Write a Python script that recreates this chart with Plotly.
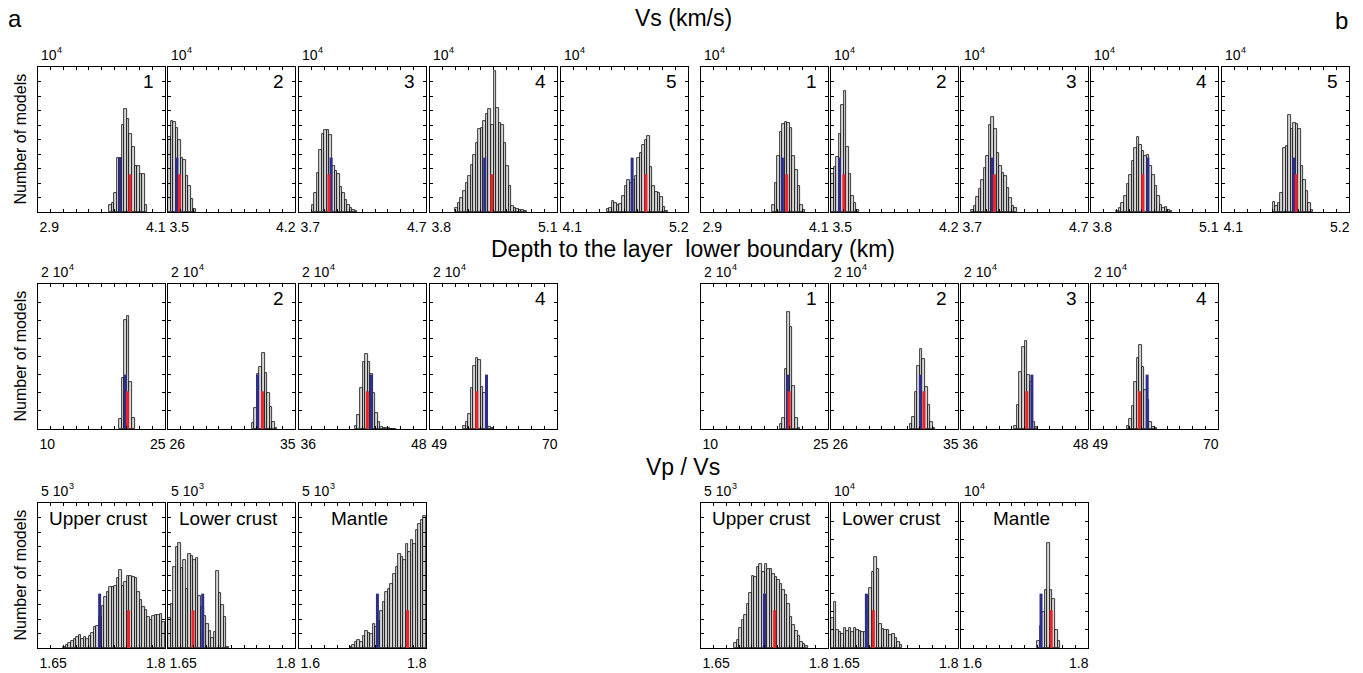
import plotly.graph_objects as go

W, H = 1363, 673
NBINS = 50
FONT = "Liberation Sans, Arial, sans-serif"

# ---------------- data ----------------
VS_RANGES = [(2.9, 4.1), (3.5, 4.2), (3.7, 4.7), (3.8, 5.1), (4.1, 5.2)]
VS_TICKS = [("2.9", "4.1"), ("3.5", "4.2"), ("3.7", "4.7"), ("3.8", "5.1"), ("4.1", "5.2")]
DEPTH_RANGES = [(10, 25), (26, 35), (36, 48), (49, 70)]
DEPTH_TICKS = [("10", "25"), ("26", "35"), ("36", "48"), ("49", "70")]
VPVS_RANGES = [(1.65, 1.8), (1.65, 1.8), (1.6, 1.8)]
VPVS_TICKS = [("1.65", "1.8"), ("1.65", "1.8"), ("1.6", "1.8")]
VPVS_NAMES = ["Upper crust", "Lower crust", "Mantle"]

# Vs histograms (counts per bin, first bin index)
VS_A_START = [28, 0, 5, 10, 18]
VS_A_COUNTS = [
    [500, 620, 1300, 3700, 3700, 6000, 7100, 6400, 5400, 4500, 3200, 3200, 2600, 2600, 500],
    [5200, 6300, 6200, 5800, 5000, 3700, 3600, 2500, 1800, 900, 200],
    [500, 1300, 2700, 4300, 5400, 5650, 5650, 5300, 3200, 2800, 2600, 1700, 1300, 850, 500, 280, 120, 50],
    [280, 620, 970, 1430, 2000, 2470, 3270, 3960, 4770, 5690, 5800, 6270, 6730, 7070, 6000, 9720,
     7190, 6150, 5970, 4770, 3160, 1770, 390, 280, 210, 160, 120, 50],
    [210, 280, 780, 620, 460, 580, 1130, 1770, 2240, 2000, 2190, 2470, 3730, 4100, 4650, 5000,
     5230, 3090, 1770, 1360, 1300, 1040, 350, 50],
]
VS_B_START = [28, 0, 4, 10, 20]
VS_B_COUNTS = [
    [460, 2000, 3850, 5500, 6080, 6200, 6150, 5800, 3850, 2880, 1770, 460, 160],
    [2600, 3100, 3800, 5400, 7350, 8350, 4500, 2600, 1100, 600, 150],
    [110, 390, 1010, 1590, 2190, 3040, 3850, 5970, 6550, 5690, 4080, 3160, 2700, 2470, 1660, 970, 390, 280],
    [90, 280, 620, 1080, 1940, 2580, 3500, 4420, 5180, 4650, 4190, 3850, 3960, 3160, 2580, 1770,
     1080, 500, 280, 320, 160, 50],
    [690, 390, 620, 1310, 4420, 4540, 6660, 5690, 6150, 6080, 5690, 3200, 2240, 1430, 620, 160],
]
VS_A_BLUE = [3.673, 3.549, 3.953, 4.36, 4.716]
VS_A_RED = [3.77, 3.563, 3.936, 4.433, 4.835]
VS_B_BLUE = [3.669, 3.547, 3.947, 4.382, 4.722]
VS_B_RED = [3.71, 3.571, 3.963, 4.33, 4.743]

# Depth histograms
DEPTH_A_START = [32, 33, 22, 13]
DEPTH_A_COUNTS = [
    [1380, 7000, 15070, 15620, 6540, 1470],
    [780, 2860, 7560, 8620, 10550, 7700, 5020, 3090, 1010, 180],
    [460, 1940, 5620, 9310, 10300, 9200, 7600, 4900, 2200, 900, 250, 100, 80, 80, 60, 50],
    [460, 920, 2030, 5710, 8710, 9860, 9500, 5850, 5000, 1010, 320, 90],
]
DEPTH_B_START = [31, 31, 21, 14]
DEPTH_B_COUNTS = [
    [650, 1570, 8290, 16080, 14010, 5990, 1570, 180],
    [650, 1710, 5160, 8710, 11010, 9630, 5850, 3320, 1010, 180],
    [460, 3320, 7930, 11290, 12070, 7500, 6500, 920, 230],
    [460, 1380, 3230, 6540, 9770, 11610, 8620, 5390, 4000, 920, 320, 90],
]
DEPTH_A_BLUE = [20.32, 32.35, 42.84, 58.34]
DEPTH_A_RED = [20.56, 32.69, 42.46, 56.74]
DEPTH_B_BLUE = [20.24, 32.34, 42.7, 58.28]
DEPTH_B_RED = [20.4, 32.58, 42.22, 57.0]

# Vp/Vs histograms
VPVS_A_START = [10, 0, 20]
VPVS_A_COUNTS = [
    [50, 115, 160, 230, 310, 390, 450, 310, 370, 310, 400, 520, 710, 770, 1060, 1460, 1750, 1920,
     2100, 2100, 2150, 2400, 2700, 2150, 2290, 2470, 2470, 2440, 2420, 1920, 1640, 1410, 1310,
     1060, 970, 1120, 1140, 1140, 1160, 890],
    [1020, 1520, 2790, 3480, 3620, 2750, 3020, 2040, 3250, 3160, 3040, 3110, 1810, 1410, 1120,
     830, 600, 330, 540, 2670, 1890, 1500, 1080, 20],
    [50, 115, 200, 290, 220, 400, 600, 510, 480, 830, 710, 940, 1290, 1580, 1920, 2040, 2210,
     2560, 2790, 3250, 3130, 3020, 3590, 3310, 3710, 3600, 4060, 4290, 4400, 4550],
]
VPVS_B_START = [13, 0, 30]
VPVS_B_COUNTS = [
    [170, 280, 680, 970, 1140, 1530, 1880, 2500, 2440, 2780, 2900, 2610, 2900, 2730, 2730, 2560,
     2440, 2330, 2210, 1990, 1820, 1530, 1080, 800, 570, 400, 200, 140, 60],
    [2050, 3180, 1250, 1070, 950, 1410, 1140, 1410, 1070, 1410, 1250, 1140, 1070, 1070, 3600,
     4140, 5230, 6250, 5450, 1640, 1300, 1250, 1250, 910, 950, 680, 410, 230],
    [450, 1500, 2500, 3980, 7270, 3980, 3410, 1250, 450],
]
VPVS_A_BLUE = [1.7228, 1.691, 1.7235]
VPVS_A_RED = [1.757, 1.6796, 1.771]
VPVS_B_BLUE = [1.725, 1.6918, 1.726]
VPVS_B_RED = [1.737, 1.70, 1.742]

# axis maxima (the "10^4" style multipliers) as (prefix, exponent)
VS_YMAX = [10000] * 5
DEPTH_YMAX = [20000] * 4
VPVS_A_YMAX = [5000, 5000, 5000]
VPVS_B_YMAX = [5000, 10000, 10000]
MULT_TEXT = {10000: ("10", "4"), 20000: ("2 10", "4"), 5000: ("5 10", "3")}
BLUE_FRAC = 0.375
RED_FRAC = 0.26

# ---------------- layout geometry (pixels) ----------------
COL_A = [38, 168, 299, 430, 561]
COL_B = [701, 831, 961, 1091, 1222]
BOXW = 127
ROWS = [(67, 212), (284, 429), (503, 648)]
TICKFONT = 14
MULTFONT = 14

BLUE = "#2A2F8E"
RED = "#EE2229"

fig = go.Figure()
annotations = []


def ann(text, px, py, size, xanchor="center", yanchor="middle", angle=0):
    annotations.append(dict(text=text, x=px / W, y=1 - py / H, xref="paper", yref="paper",
                            showarrow=False, xanchor=xanchor, yanchor=yanchor, textangle=angle,
                            font=dict(size=size, color="black", family=FONT)))


def text_width(s, size):
    # approximate Arial metrics: digits 0.556 em, '.' and ' ' 0.278 em
    return sum(0.278 if c in ". " else 0.556 for c in s) * size


panels = []
for side, cols in (("a", COL_A), ("b", COL_B)):
    vs_start = VS_A_START if side == "a" else VS_B_START
    vs_counts = VS_A_COUNTS if side == "a" else VS_B_COUNTS
    vs_blue = VS_A_BLUE if side == "a" else VS_B_BLUE
    vs_red = VS_A_RED if side == "a" else VS_B_RED
    for j in range(5):
        panels.append(dict(left=cols[j], row=0, rng=VS_RANGES[j], ticks=VS_TICKS[j],
                           start=vs_start[j], counts=vs_counts[j], ymax=VS_YMAX[j], ndiv=10,
                           blue=vs_blue[j], red=vs_red[j], label=str(j + 1)))
    d_start = DEPTH_A_START if side == "a" else DEPTH_B_START
    d_counts = DEPTH_A_COUNTS if side == "a" else DEPTH_B_COUNTS
    d_blue = DEPTH_A_BLUE if side == "a" else DEPTH_B_BLUE
    d_red = DEPTH_A_RED if side == "a" else DEPTH_B_RED
    for j in range(4):
        lab = str(j + 1)
        if side == "a" and j in (0, 2):
            lab = ""
        panels.append(dict(left=cols[j], row=1, rng=DEPTH_RANGES[j], ticks=DEPTH_TICKS[j],
                           start=d_start[j], counts=d_counts[j], ymax=DEPTH_YMAX[j], ndiv=8,
                           blue=d_blue[j], red=d_red[j], label=lab))
    v_start = VPVS_A_START if side == "a" else VPVS_B_START
    v_counts = VPVS_A_COUNTS if side == "a" else VPVS_B_COUNTS
    v_blue = VPVS_A_BLUE if side == "a" else VPVS_B_BLUE
    v_red = VPVS_A_RED if side == "a" else VPVS_B_RED
    v_ymax = VPVS_A_YMAX if side == "a" else VPVS_B_YMAX
    for j in range(3):
        ym = v_ymax[j]
        panels.append(dict(left=cols[j], row=2, rng=VPVS_RANGES[j], ticks=VPVS_TICKS[j],
                           start=v_start[j], counts=v_counts[j], ymax=ym,
                           ndiv=10 if ym == 5000 else 8,
                           blue=v_blue[j], red=v_red[j], label="", name=VPVS_NAMES[j]))

layout_axes = {}
for i, p in enumerate(panels, start=1):
    lo, hi = p["rng"]
    w = (hi - lo) / NBINS
    xs = [lo + (p["start"] + k + 0.5) * w for k in range(len(p["counts"]))]
    xa = "x" if i == 1 else f"x{i}"
    ya = "y" if i == 1 else f"y{i}"
    fig.add_trace(go.Bar(x=xs, y=p["counts"], width=w, xaxis=xa, yaxis=ya,
                         marker=dict(color="#d6d6d6", line=dict(color="black", width=0.75)),
                         showlegend=False, hoverinfo="skip"))
    fig.add_trace(go.Scatter(x=[p["blue"], p["blue"]], y=[0, BLUE_FRAC * p["ymax"]], mode="lines",
                             line=dict(color=BLUE, width=3), xaxis=xa, yaxis=ya,
                             showlegend=False, hoverinfo="skip"))
    fig.add_trace(go.Scatter(x=[p["red"], p["red"]], y=[0, RED_FRAC * p["ymax"]], mode="lines",
                             line=dict(color=RED, width=3), xaxis=xa, yaxis=ya,
                             showlegend=False, hoverinfo="skip"))
    top, bot = ROWS[p["row"]]
    left = p["left"]
    per_px = (hi - lo) / BOXW
    # min label sits just inside the left edge, max label just inside the right edge
    lv = lo + (text_width(p["ticks"][0], TICKFONT) / 2 + 1.5) * per_px
    hv = hi - (text_width(p["ticks"][1], TICKFONT) / 2 - 0.5) * per_px
    common = dict(showline=True, linecolor="black", linewidth=1.2, mirror="allticks",
                  showgrid=False, zeroline=False, fixedrange=True)
    layout_axes["xaxis" if i == 1 else f"xaxis{i}"] = dict(
        domain=[left / W, (left + BOXW) / W], range=[lo, hi], anchor=ya,
        tickmode="array", tickvals=[lv, hv], ticktext=list(p["ticks"]),
        ticks="inside", ticklen=0, tickcolor="black",
        tickfont=dict(size=TICKFONT, color="black", family=FONT), ticklabelstandoff=2,
        minor=dict(ticks="inside", ticklen=3, tickwidth=0.8, tickcolor="black",
                   tick0=lo, dtick=(hi - lo) / 10, showgrid=False),
        **common)
    layout_axes["yaxis" if i == 1 else f"yaxis{i}"] = dict(
        domain=[1 - bot / H, 1 - top / H], range=[0, p["ymax"]], anchor=xa,
        ticks="inside", ticklen=3, tickwidth=0.8, tickcolor="black", showticklabels=False,
        tick0=0, dtick=p["ymax"] / p["ndiv"], **common)

    # multiplier: base text plus raised small exponent
    base, expo = MULT_TEXT[p["ymax"]]
    ann(base, left + 1, top - 12, MULTFONT, xanchor="left")
    ann(expo, left + 1.5 + text_width(base, MULTFONT), top - 17, 9, xanchor="left")
    # panel number
    if p["label"]:
        ann(p["label"], left + BOXW - 9, top + 14, 19, xanchor="right")
    if p.get("name"):
        ann(p["name"], left + BOXW / 2 - 3, top + 15, 19)

# titles
ann("Vs (km/s)", 683, 18, 23)
ann("Depth to the layer \u00a0lower boundary (km)", 693, 249, 23)
ann("Vp / Vs", 683, 467, 23)
ann("a", 15, 18, 24)
ann("b", 1341, 20, 24)
for top, bot in ROWS:
    ann("Number of models", 20, (top + bot) / 2, 16, angle=-90)

fig.update_layout(width=W, height=H, margin=dict(l=0, r=0, t=0, b=0),
                  paper_bgcolor="white", plot_bgcolor="white", bargap=0,
                  annotations=annotations, font=dict(family=FONT), **layout_axes)

fig.write_html("out.html")
